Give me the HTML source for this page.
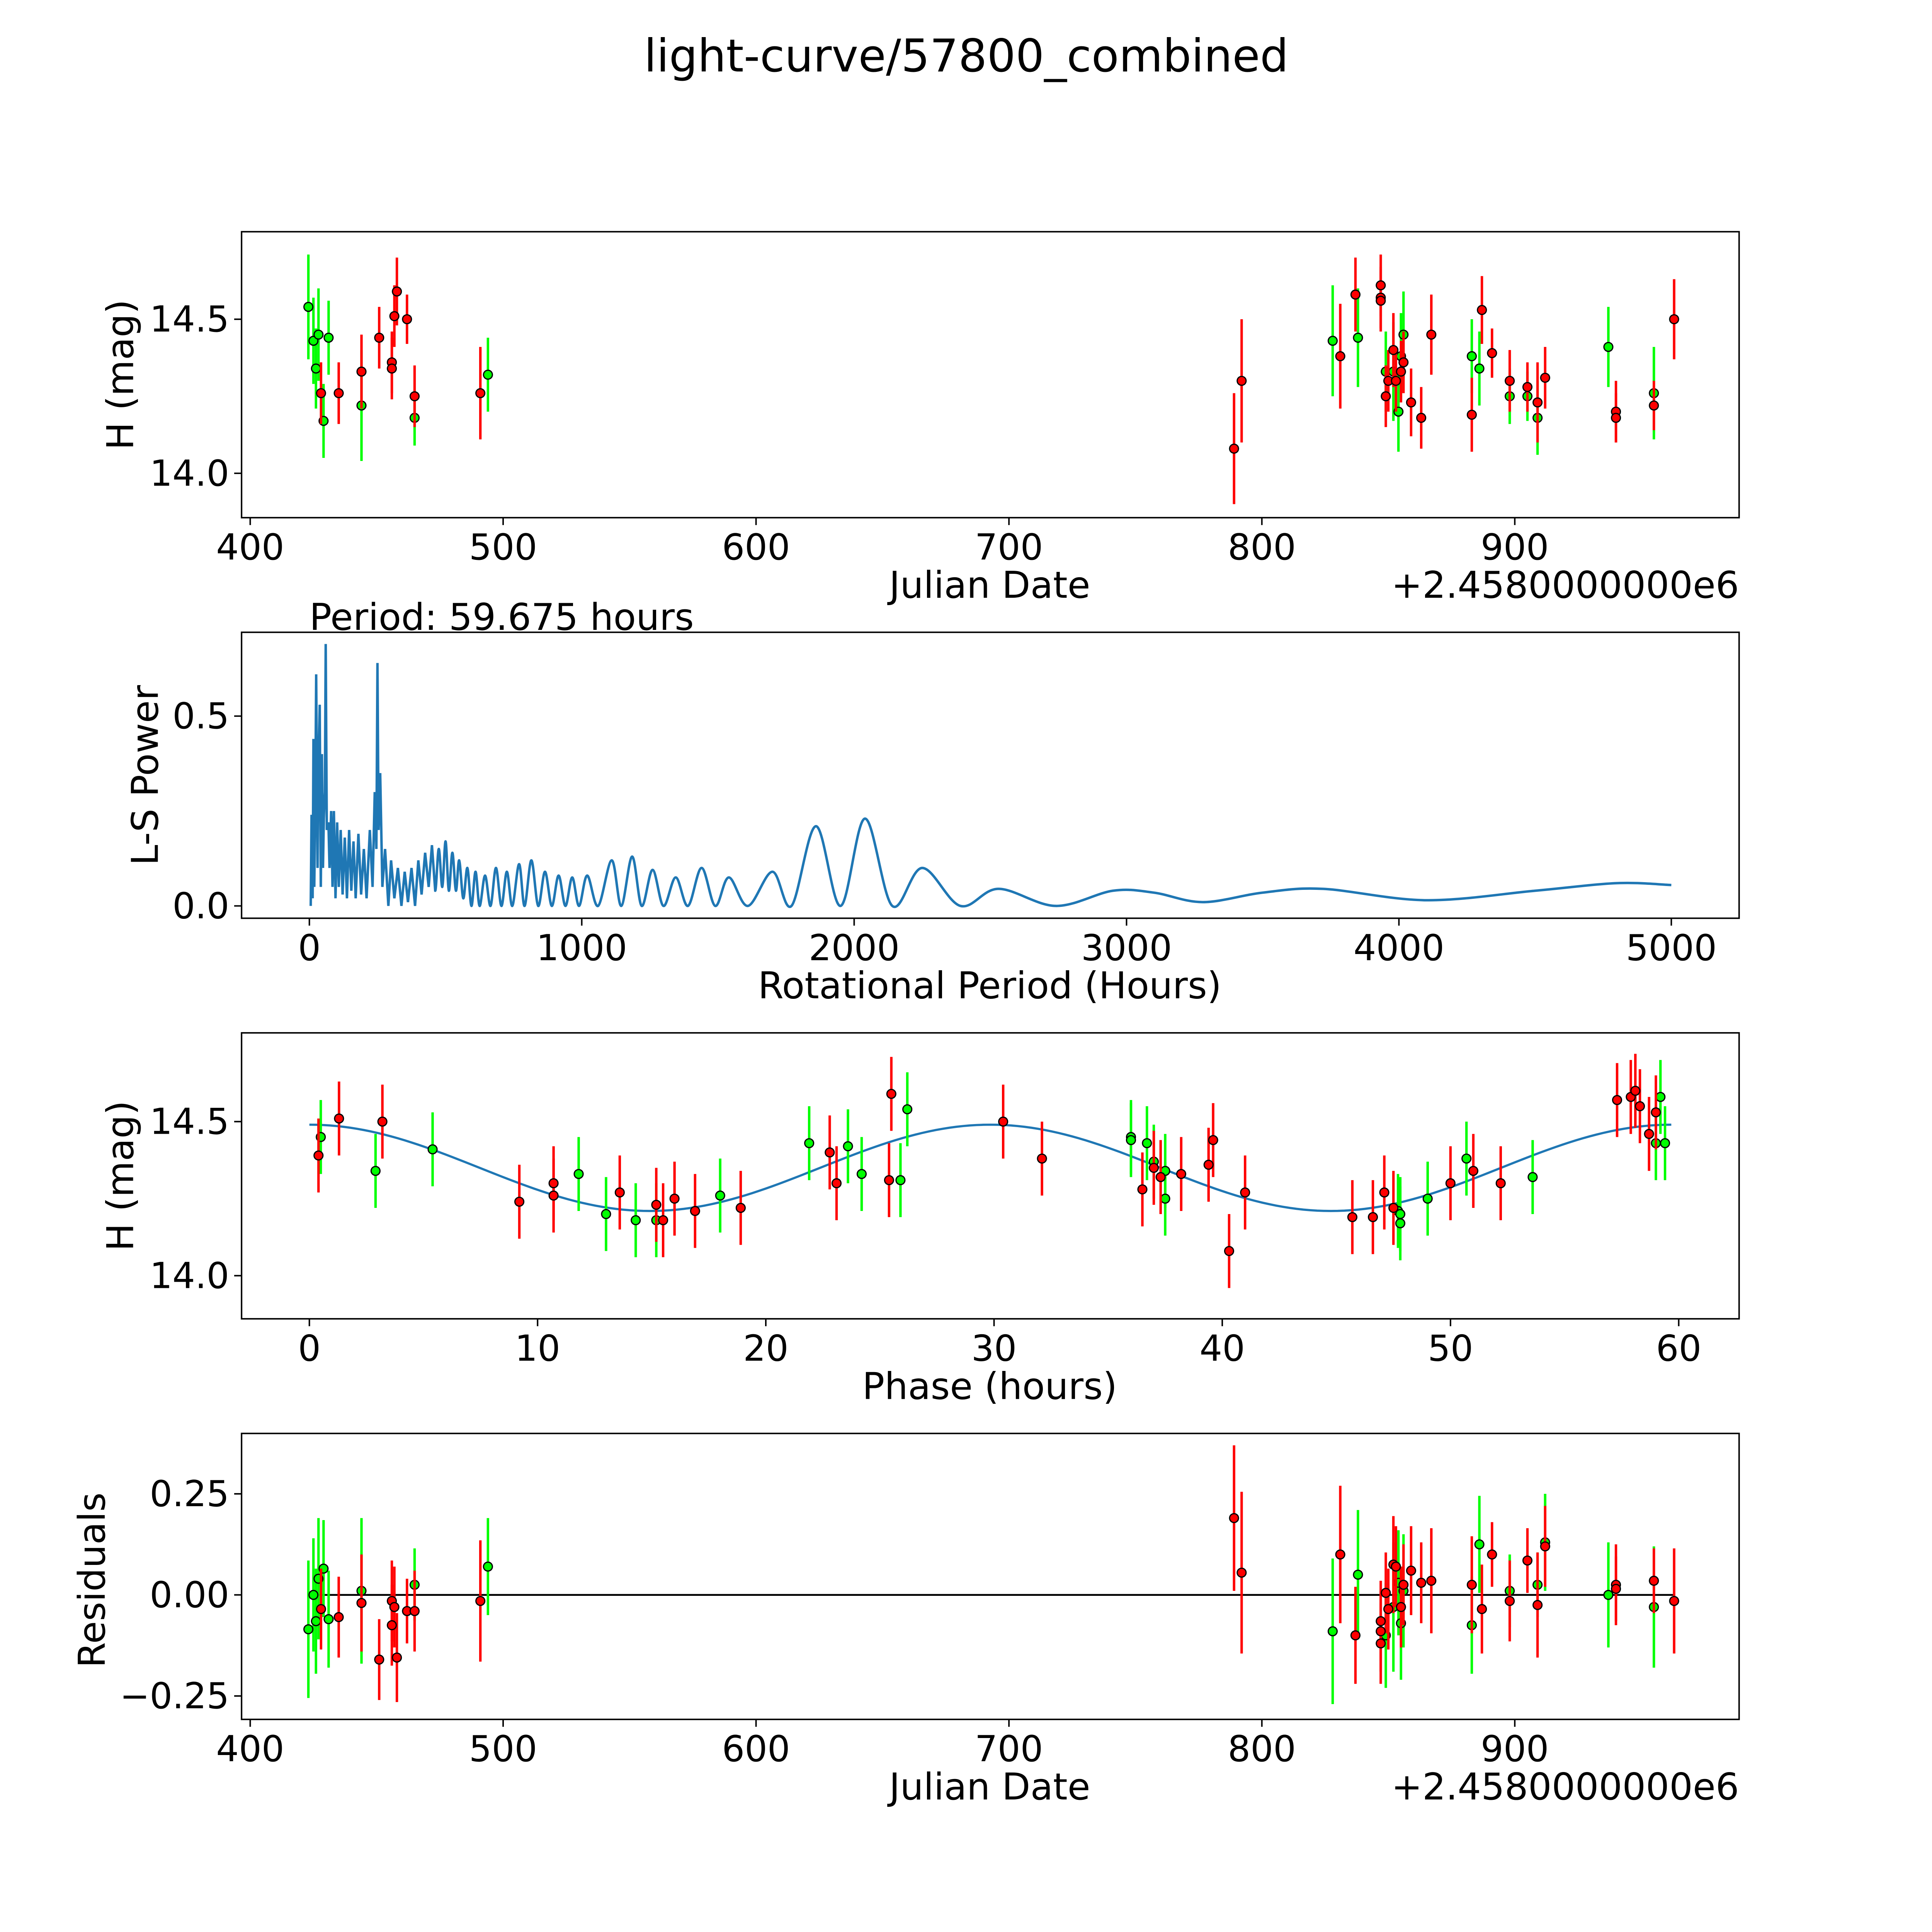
<!DOCTYPE html>
<html><head><meta charset="utf-8"><style>
html,body{margin:0;padding:0;background:#fff;overflow:hidden;width:100vw;height:100vh}
svg{display:block;width:100vw;height:100vh}
text{font-family:"DejaVu Sans","Liberation Sans",sans-serif;fill:#000}
</style></head><body>
<svg id="fig" xmlns="http://www.w3.org/2000/svg" viewBox="0 0 1567.5 1567.5" preserveAspectRatio="none">
<rect width="1567.5" height="1567.5" fill="#fff"/>
<text x="784" y="58" font-size="36.5" text-anchor="middle">light-curve/57800_combined</text>
<g id="g1"></g>
<g id="g2"></g>
<g id="g3"></g>
<g id="g4"></g>
</svg>
<script>
// ---- data ----
const lcGreenJD=[423,425,426,427,429,431,444,465,494,828,838,849,852,854,855,856,883,886,898,905,909,937,955];
const lcGreenMag=[14.54,14.43,14.34,14.45,14.17,14.44,14.22,14.18,14.32,14.43,14.44,14.33,14.33,14.20,14.38,14.45,14.38,14.34,14.25,14.25,14.18,14.41,14.26];
const lcGreenErr=[0.17,0.14,0.13,0.15,0.12,0.12,0.18,0.09,0.12,0.18,0.16,0.13,0.16,0.13,0.14,0.14,0.12,0.12,0.09,0.08,0.12,0.13,0.15];
const lcRedJD=[428,435,444,451,456,456,457,458,462,465,491,789,792,831,837,847,847,847,849,850,852,853,855,856,859,863,867,883,887,891,898,905,909,912,940,940,955,963];
const lcRedMag=[14.26,14.26,14.33,14.44,14.36,14.34,14.51,14.59,14.50,14.25,14.26,14.08,14.30,14.38,14.58,14.61,14.57,14.56,14.25,14.30,14.40,14.30,14.33,14.36,14.23,14.18,14.45,14.19,14.53,14.39,14.30,14.28,14.23,14.31,14.20,14.18,14.22,14.50];
const lcRedErr=[0.1,0.1,0.12,0.1,0.1,0.1,0.1,0.11,0.08,0.1,0.15,0.18,0.2,0.17,0.12,0.1,0.1,0.1,0.1,0.1,0.12,0.1,0.1,0.1,0.11,0.1,0.13,0.12,0.11,0.08,0.1,0.08,0.13,0.1,0.1,0.08,0.08,0.13];

const lsPeriod=[5,8,12,15,18,22,25,30,33,38,42,46,50,53,57,60,64,70,74,80,85,90,96,102,108,115,122,130,138,146,154,162,170,180,190,200,210,222,232,240,246,250,254,260,268,278,290,300,312,325,338,350,362,375,388,400,412,425,438,450,462,475,488,500,512,525,538,550,565,580,595,610,625,645,665,685,705,725,745,770,790,815,840,865,890,915,940,965,990,1020,1060,1110,1145,1185,1220,1260,1300,1345,1390,1440,1490,1540,1610,1700,1770,1860,1950,2040,2140,2250,2390,2530,2740,2950,3100,3280,3500,3720,4100,4500,4800,5000];
const lsPower=[0.0,0.24,0.02,0.44,0.05,0.3,0.61,0.1,0.35,0.53,0.05,0.4,0.1,0.23,0.3,0.69,0.2,0.22,0.1,0.25,0.05,0.25,0.02,0.22,0.05,0.2,0.03,0.18,0.02,0.2,0.04,0.17,0.02,0.19,0.03,0.15,0.02,0.2,0.05,0.3,0.15,0.64,0.2,0.35,0.05,0.15,0.0,0.12,0.02,0.1,0.0,0.09,0.01,0.1,0.0,0.12,0.03,0.14,0.05,0.16,0.04,0.15,0.05,0.17,0.04,0.14,0.04,0.12,0.02,0.1,0.0,0.09,0.0,0.08,0.0,0.1,0.0,0.09,0.0,0.11,0.0,0.12,0.0,0.09,0.0,0.08,0.0,0.075,0.0,0.08,0.0,0.12,0.0,0.13,0.0,0.095,0.0,0.075,0.0,0.10,0.0,0.075,0.0,0.09,0.0,0.21,0.0,0.23,0.0,0.10,0.0,0.045,0.0,0.04,0.035,0.01,0.035,0.045,0.015,0.04,0.06,0.055];

const phGreenX=[0.5,2.9,5.4,11.8,13,14.3,15.2,18,21.9,23.6,24.2,25.9,26.2,36,36,36.7,37,37.5,37.5,47.7,47.8,47.8,49,50.7,53.6,59,59.2,59.4];
const phGreenMag=[14.45,14.34,14.41,14.33,14.20,14.18,14.18,14.26,14.43,14.42,14.33,14.31,14.54,14.45,14.44,14.43,14.37,14.34,14.25,14.21,14.17,14.20,14.25,14.38,14.32,14.43,14.58,14.43];
const phRedX=[0.4,1.3,3.2,9.2,10.7,10.7,13.6,15.2,15.5,16,16.9,18.9,22.8,23.1,25.4,25.5,30.4,32.1,36.5,37,37.3,38.2,39.4,39.6,40.3,41,45.7,46.6,47.1,47.5,50,51,52.2,57.3,57.9,58.1,58.3,58.7,59];
const phRedMag=[14.39,14.51,14.50,14.24,14.30,14.26,14.27,14.23,14.18,14.25,14.21,14.22,14.40,14.30,14.31,14.59,14.50,14.38,14.28,14.35,14.32,14.33,14.36,14.44,14.08,14.27,14.19,14.19,14.27,14.22,14.30,14.34,14.30,14.57,14.58,14.60,14.55,14.46,14.53];
const modelMean=14.35, modelAmp=0.14, modelPeriod=59.675;

const resGreenJD=[423,425,426,427,429,431,444,465,494,828,838,849,852,854,855,856,883,886,898,909,912,937,955];
const resGreen=[-0.085,0.0,-0.065,0.04,0.065,-0.06,0.01,0.025,0.07,-0.09,0.05,-0.10,-0.03,0.03,-0.07,0.01,-0.075,0.125,0.01,0.025,0.13,0.0,-0.03];
const resRedJD=[428,435,444,451,456,456,457,458,462,465,491,789,792,831,837,847,847,847,849,850,852,853,855,856,859,863,867,883,887,891,898,905,909,912,940,940,955,963];
const resRed=[-0.035,-0.055,-0.02,-0.16,-0.015,-0.075,-0.03,-0.155,-0.04,-0.04,-0.015,0.19,0.055,0.10,-0.10,-0.065,-0.09,-0.12,0.005,-0.035,0.075,0.07,-0.03,0.025,0.06,0.03,0.035,0.025,-0.035,0.10,-0.015,0.085,-0.025,0.12,0.025,0.015,0.035,-0.015];

// ---- helpers ----
const NS='http://www.w3.org/2000/svg';
const TF=29, LF=30;
function mk(parent,tag,attrs){const e=document.createElementNS(NS,tag);for(const k in attrs)e.setAttribute(k,attrs[k]);parent.appendChild(e);return e;}
function lin(d0,d1,r0,r1){return v=>r0+(v-d0)*(r1-r0)/(d1-d0);}
const L=196,R=1411;
function frame(g,top,bot){const r=mk(g,'rect',{x:L,y:top,width:R-L,height:bot-top,fill:'none',stroke:'#000','stroke-width':1.2});}
function xticks(g,xs,vals,labels,bot){vals.forEach((v,i)=>{const x=xs(v);mk(g,'line',{x1:x,x2:x,y1:bot,y2:bot+6,stroke:'#000','stroke-width':1.2});const t=mk(g,'text',{x:x,y:bot+34,'font-size':TF,'text-anchor':'middle'});t.textContent=labels[i];});}
function yticks(g,ys,vals,labels){vals.forEach((v,i)=>{const y=ys(v);mk(g,'line',{x1:L-6,x2:L,y1:y,y2:y,stroke:'#000','stroke-width':1.2});const t=mk(g,'text',{x:L-10,y:y+10,'font-size':TF,'text-anchor':'end'});t.textContent=labels[i];});}
function label(g,txt,x,y,rot,name){const t=mk(g,'text',{x:x,y:y,'font-size':LF,'text-anchor':'middle',transform:rot?`rotate(-90 ${x} ${y})`:''});t.textContent=txt;}
function points(g,xa,ya,ea,xs,ys,color,name,escale){
  xa.forEach((xv,i)=>{const x=xs(xv);const e=ea?ea[i]:0.12;
    const ln=mk(g,'line',{x1:x,x2:x,y1:ys(ya[i]-e*escale),y2:ys(ya[i]+e*escale),stroke:color,'stroke-width':2});
    });
  xa.forEach((xv,i)=>{const c=mk(g,'circle',{cx:xs(xv),cy:ys(ya[i]),r:3.6,fill:color,stroke:'#000','stroke-width':1});
    });
}
const jdX=lin(400,900,203,1229);

// ---- panel 1 ----
{const g=document.getElementById('g1');const ys=lin(14.0,14.5,384,259);
frame(g,188,420);
xticks(g,jdX,[400,500,600,700,800,900],['400','500','600','700','800','900'],420);
yticks(g,ys,[14.0,14.5],['14.0','14.5']);
points(g,lcGreenJD,lcGreenMag,lcGreenErr,jdX,ys,'#00ff00','green-obs',1);
points(g,lcRedJD,lcRedMag,lcRedErr,jdX,ys,'#ff0000','red-obs',1);
label(g,'Julian Date',803,485,false,'x-axis-title');
const o=mk(g,'text',{x:1411,y:485,'font-size':LF,'text-anchor':'end'});o.textContent='+2.4580000000e6';

label(g,'H (mag)',108,304,true,'y-axis-title');}

// ---- panel 2 ----
{const g=document.getElementById('g2');const xs=lin(0,5000,251,1356),ys=lin(0,0.5,735,581);
frame(g,513,745);
xticks(g,xs,[0,1000,2000,3000,4000,5000],['0','1000','2000','3000','4000','5000'],745);
yticks(g,ys,[0,0.5],['0.0','0.5']);
const P=lsPeriod.map((p,i)=>[xs(p),ys(lsPower[i])]);
let d=`M${P[0][0]},${P[0][1]}`;
for(let i=0;i<P.length-1;i++){const p0=P[Math.max(0,i-1)],p1=P[i],p2=P[i+1],p3=P[Math.min(P.length-1,i+2)];
const t=(i<60)?0:1/6;
d+=` C${p1[0]+(p2[0]-p0[0])*t},${p1[1]+(p2[1]-p0[1])*t} ${p2[0]-(p3[0]-p1[0])*t},${p2[1]-(p3[1]-p1[1])*t} ${p2[0]},${p2[1]}`;}
const pl=mk(g,'path',{d:d,fill:'none',stroke:'#1f77b4','stroke-width':2});

label(g,'Rotational Period (Hours)',803,810,false,'x-axis-title');
label(g,'L-S Power',128,629,true,'y-axis-title');
const t=mk(g,'text',{x:251,y:511,'font-size':LF});t.textContent='Period: 59.675 hours';
}

// ---- panel 3 ----
{const g=document.getElementById('g3');const xs=lin(0,60,251,1362),ys=lin(14.0,14.5,1035,910);
frame(g,838,1070);
xticks(g,xs,[0,10,20,30,40,50,60],['0','10','20','30','40','50','60'],1070);
yticks(g,ys,[14.0,14.5],['14.0','14.5']);
let d='';for(let k=0;k<=200;k++){const ph=modelPeriod*k/200;const m=modelMean+modelAmp*Math.cos(4*Math.PI*ph/modelPeriod);d+=(k?'L':'M')+xs(ph)+','+ys(m);}
const ml=mk(g,'path',{d:d,fill:'none',stroke:'#1f77b4','stroke-width':1.8});

points(g,phGreenX,phGreenMag,null,xs,ys,'#00ff00','green-phase',1);
points(g,phRedX,phRedMag,null,xs,ys,'#ff0000','red-phase',1);
label(g,'Phase (hours)',803,1135,false,'x-axis-title');
label(g,'H (mag)',108,954,true,'y-axis-title');}

// ---- panel 4 ----
{const g=document.getElementById('g4');const ys=lin(0,0.25,1294,1212);
frame(g,1163,1395);
xticks(g,jdX,[400,500,600,700,800,900],['400','500','600','700','800','900'],1395);
yticks(g,ys,[-0.25,0,0.25],['\u22120.25','0.00','0.25']);
const zl=mk(g,'line',{x1:jdX(423),x2:jdX(963),y1:ys(0),y2:ys(0),stroke:'#000','stroke-width':1.5});

points(g,resGreenJD,resGreen,lcGreenErr,jdX,ys,'#00ff00','green-resid',1);
points(g,resRedJD,resRed,lcRedErr,jdX,ys,'#ff0000','red-resid',1);
label(g,'Julian Date',803,1460,false,'x-axis-title');
const o=mk(g,'text',{x:1411,y:1460,'font-size':LF,'text-anchor':'end'});o.textContent='+2.4580000000e6';

label(g,'Residuals',85,1282,true,'y-axis-title');}
</script>
</body></html>
